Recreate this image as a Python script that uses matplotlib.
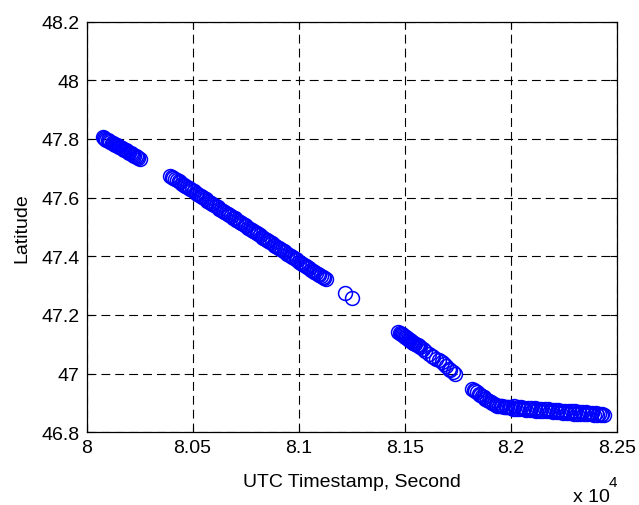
import matplotlib
matplotlib.use('Agg')
import matplotlib.pyplot as plt

# GPS latitude vs UTC timestamp (seconds)
seg1_t = [80076, 80082, 80088, 80094, 80100, 80106, 80112, 80118, 80124, 80130,
          80136, 80142, 80148, 80154, 80160, 80166, 80172, 80178, 80184, 80190,
          80196, 80202, 80208, 80214, 80220, 80226, 80232, 80238, 80244, 80250]
seg1_lat = [47.806, 47.803, 47.801, 47.798, 47.796, 47.793, 47.791, 47.788, 47.786, 47.783,
            47.781, 47.778, 47.776, 47.773, 47.771, 47.768, 47.766, 47.763, 47.761, 47.758,
            47.756, 47.753, 47.751, 47.748, 47.746, 47.743, 47.741, 47.738, 47.736, 47.733]

seg2_t = [80394, 80402, 80410, 80418, 80426, 80434, 80442, 80450, 80458, 80466,
          80474, 80482, 80490, 80498, 80506, 80514, 80522, 80530, 80538, 80546,
          80554, 80562, 80570, 80578, 80586, 80594, 80602, 80610, 80618, 80626,
          80634, 80642, 80650, 80658, 80666, 80674, 80682, 80690, 80698, 80706,
          80714, 80722, 80730, 80738, 80746, 80754, 80762, 80770, 80778, 80786,
          80794, 80802, 80810, 80818, 80826, 80834, 80842, 80850, 80858, 80866,
          80874, 80882, 80890, 80898, 80906, 80914, 80922, 80930, 80938, 80946,
          80954, 80962, 80970, 80978, 80986, 80994, 81002, 81010, 81018, 81026,
          81034, 81042, 81050, 81058, 81066, 81074, 81082, 81090, 81098, 81106,
          81114, 81122, 81128]
seg2_lat = [47.675, 47.671, 47.667, 47.663, 47.660, 47.656, 47.652, 47.648, 47.644, 47.640,
            47.636, 47.633, 47.629, 47.625, 47.621, 47.617, 47.613, 47.610, 47.606, 47.602,
            47.598, 47.594, 47.590, 47.586, 47.583, 47.579, 47.575, 47.571, 47.567, 47.563,
            47.559, 47.556, 47.552, 47.548, 47.544, 47.540, 47.536, 47.532, 47.529, 47.525,
            47.521, 47.517, 47.513, 47.509, 47.506, 47.502, 47.498, 47.494, 47.490, 47.486,
            47.482, 47.479, 47.475, 47.471, 47.467, 47.463, 47.459, 47.455, 47.452, 47.448,
            47.444, 47.440, 47.436, 47.432, 47.428, 47.425, 47.421, 47.417, 47.413, 47.409,
            47.405, 47.401, 47.398, 47.394, 47.390, 47.386, 47.382, 47.378, 47.375, 47.371,
            47.367, 47.363, 47.359, 47.355, 47.351, 47.348, 47.344, 47.340, 47.336, 47.332,
            47.328, 47.325, 47.322]

iso_t = [81219, 81251]
iso_lat = [47.275, 47.257]

seg3_t = [81471, 81476, 81481, 81486, 81491, 81496, 81501, 81506, 81511, 81516,
          81521, 81526, 81531, 81536, 81541, 81546, 81551, 81556, 81561, 81566,
          81574, 81586, 81598, 81615, 81628, 81636, 81650, 81662, 81675, 81684,
          81695, 81707, 81715, 81726, 81738]
seg3_lat = [47.141, 47.139, 47.136, 47.134, 47.131, 47.129, 47.126, 47.124, 47.121, 47.119,
            47.116, 47.114, 47.111, 47.109, 47.106, 47.104, 47.101, 47.099, 47.096, 47.094,
            47.090, 47.084, 47.078, 47.068, 47.061, 47.057, 47.050, 47.045, 47.039, 47.033,
            47.025, 47.016, 47.011, 47.005, 46.999]

seg4_t = [81817, 81825, 81833, 81841, 81849, 81857, 81865, 81873, 81881, 81889,
          81897, 81905, 81913, 81921, 81929, 81937, 81945, 81953, 81961, 81969,
          81977, 81985, 81993, 82001, 82009, 82017, 82025, 82033, 82041, 82049,
          82057, 82065, 82073, 82081, 82089, 82097, 82105, 82113, 82121, 82129,
          82137, 82145, 82153, 82161, 82169, 82177, 82185, 82193, 82201, 82209,
          82217, 82225, 82233, 82241, 82249, 82257, 82265, 82273, 82281, 82289,
          82297, 82305, 82313, 82321, 82329, 82337, 82345, 82353, 82361, 82369,
          82377, 82385, 82393, 82401, 82409, 82417, 82425, 82433, 82438]
seg4_lat = [46.948, 46.944, 46.940, 46.936, 46.931, 46.927, 46.923, 46.919, 46.915, 46.911,
            46.907, 46.903, 46.899, 46.896, 46.893, 46.891, 46.890, 46.889, 46.888, 46.887,
            46.886, 46.886, 46.885, 46.887, 46.881, 46.888, 46.880, 46.886, 46.879, 46.885,
            46.878, 46.884, 46.877, 46.883, 46.876, 46.882, 46.875, 46.883, 46.874, 46.881,
            46.873, 46.880, 46.872, 46.879, 46.871, 46.878, 46.871, 46.877, 46.870, 46.876,
            46.869, 46.875, 46.868, 46.874, 46.867, 46.874, 46.866, 46.873, 46.865, 46.872,
            46.864, 46.871, 46.864, 46.870, 46.863, 46.869, 46.862, 46.868, 46.862, 46.867,
            46.861, 46.866, 46.860, 46.865, 46.860, 46.864, 46.859, 46.862, 46.860]

x_ticks = [80000, 80500, 81000, 81500, 82000, 82500]
x_ticklabels = ['8', '8.05', '8.1', '8.15', '8.2', '8.25']
y_ticks = [46.8, 47.0, 47.2, 47.4, 47.6, 47.8, 48.0, 48.2]
y_ticklabels = ['46.8', '47', '47.2', '47.4', '47.6', '47.8', '48', '48.2']

plt.rcParams['font.family'] = ['Liberation Sans', 'DejaVu Sans']

fig = plt.figure(figsize=(6.39, 5.06), dpi=100)
ax = fig.add_axes([0.1354, 0.1437, 0.8297, 0.8115])

t_all = seg1_t + seg2_t + iso_t + seg3_t + seg4_t
lat_all = seg1_lat + seg2_lat + iso_lat + seg3_lat + seg4_lat
ax.plot(t_all, lat_all, linestyle='none', marker='o', markersize=10,
        markerfacecolor='none', markeredgecolor='#0000ff', markeredgewidth=1.1)

ax.set_xlim(80000, 82500)
ax.set_ylim(46.8, 48.2)
ax.set_xticks(x_ticks)
ax.set_xticklabels(x_ticklabels)
ax.set_yticks(y_ticks)
ax.set_yticklabels(y_ticklabels)
ax.tick_params(direction='in', length=5, width=0.8, labelsize=14, top=True, right=True, pad=5)

ax.grid(True, color='k', linestyle=(0, (8, 4.5)), linewidth=0.8)
for s in ax.spines.values():
    s.set_linewidth(0.9)

ax.set_xlabel('UTC Timestamp, Second', fontsize=14, labelpad=12)
ax.set_ylabel('Latitude', fontsize=14, labelpad=8)
# MATLAB-style exponent label under the right end of the x axis
fig.text(0.897, 0.008, 'x 10', fontsize=14, ha='left', va='baseline')
fig.text(0.953, 0.038, '4', fontsize=11, ha='left', va='baseline')

fig.savefig('out.png', dpi=100)
